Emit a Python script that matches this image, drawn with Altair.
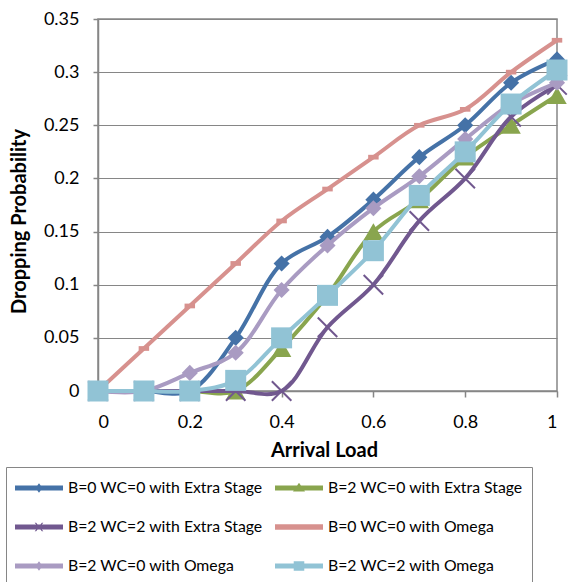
import altair as alt
import pandas as pd

# ---- data ----
loads = [0, 0.1, 0.2, 0.3, 0.4, 0.5, 0.6, 0.7, 0.8, 0.9, 1.0]

series_names = [
    "B=0 WC=0 with Extra Stage",
    "B=2 WC=0 with Extra Stage",
    "B=2 WC=2 with Extra Stage",
    "B=0 WC=0 with Omega",
    "B=2 WC=0 with Omega",
    "B=2 WC=2 with Omega",
]

b0wc0_extra = [0, 0, 0, 0.05, 0.12, 0.145, 0.18, 0.22, 0.25, 0.29, 0.312]
b2wc0_extra = [0, 0, 0, 0, 0.04, 0.09, 0.15, 0.18, 0.22, 0.25, 0.278]
b2wc2_extra = [0, 0, 0, 0, 0, 0.06, 0.10, 0.16, 0.20, 0.258, 0.288]
b0wc0_omega = [0, 0.04, 0.08, 0.12, 0.16, 0.19, 0.22, 0.25, 0.265, 0.30, 0.33]
b2wc0_omega = [0, 0, 0.017, 0.036, 0.095, 0.137, 0.172, 0.202, 0.237, 0.27, 0.29]
b2wc2_omega = [0, 0, 0, 0.01, 0.05, 0.09, 0.132, 0.184, 0.225, 0.27, 0.302]

all_values = [b0wc0_extra, b2wc0_extra, b2wc2_extra, b0wc0_omega, b2wc0_omega, b2wc2_omega]

colors = ["#4572A7", "#89A54E", "#71588F", "#D7918E", "#A99BC2", "#91C3D5"]

x_ticks = [0, 0.2, 0.4, 0.6, 0.8, 1]
y_ticks = [0, 0.05, 0.1, 0.15, 0.2, 0.25, 0.3, 0.35]

# marker styles per series: (shape, size, filled, strokeWidth)
X_PATH = "M-1,-1L1,1M1,-1L-1,1"
DASH_PATH = "M-1,-0.45L1,-0.45L1,0.45L-1,0.45Z"
markers = [
    ("diamond", 260, True, 0),
    ("triangle-up", 380, True, 0),
    (X_PATH, 380, False, 2),
    (DASH_PATH, 110, True, 0),
    ("diamond", 260, True, 0),
    ("square", 441, True, 0),
]

# legend symbols: line with a small marker
LINE = "M-1,-0.1L1,-0.1L1,0.1L-1,0.1Z"
legend_paths = [
    LINE + "M0,-0.2L0.15,0L0,0.2L-0.15,0Z",
    LINE + "M0,-0.22L0.25,0.15L-0.25,0.15Z",
    LINE + "M-0.18,-0.18L-0.12,-0.18L0.18,0.18L0.12,0.18Z"
         + "M0.12,-0.18L0.18,-0.18L-0.12,0.18L-0.18,0.18Z",
    "M-1,-0.11L1,-0.11L1,0.11L-1,0.11Z",
    LINE + "M0,-0.2L0.15,0L0,0.2L-0.15,0Z",
    LINE + "M-0.22,-0.2L0.22,-0.2L0.22,0.2L-0.22,0.2Z",
]

rows = []
for name, vals in zip(series_names, all_values):
    for xv, yv in zip(loads, vals):
        rows.append({"series": name, "load": xv, "prob": yv})
df = pd.DataFrame(rows)

GRAY = "#868686"
FONT = "Lato"

color_scale = alt.Scale(domain=series_names, range=colors)

x_enc = alt.X(
    "load:Q",
    scale=alt.Scale(domain=[0, 1], nice=False, zero=False),
    axis=alt.Axis(
        values=x_ticks, format="~g", grid=False, tickSize=6,
        labelPadding=30, labelBaseline="alphabetic",
        title="Arrival Load", titleX=226, titleY=65.5,
        titleBaseline="alphabetic", titleAlign="center",
    ),
)
y_enc = alt.Y(
    "prob:Q",
    scale=alt.Scale(domain=[0, 0.35], nice=False),
    axis=alt.Axis(
        values=y_ticks, format="~g", grid=True, tickSize=5,
        labelPadding=14,
        title="Dropping Probability", titleX=-73, titleY=202,
        titleBaseline="alphabetic", titleAlign="center", titleAngle=270,
    ),
)

legend = alt.Legend(
    title=None, orient="none", legendX=-92, legendY=448, columns=2,
    direction="horizontal",
    symbolSize=2304, symbolStrokeWidth=0, symbolOpacity=1,
    labelFont=FONT, labelFontSize=15.8, labelColor="black", labelOffset=5,
    labelLimit=400, clipHeight=24, rowPadding=15, columnPadding=12,
    padding=9, strokeColor=GRAY,
)

base = alt.Chart(df)

legend_layer = base.mark_point(filled=True, opacity=0).encode(
    x=x_enc, y=y_enc,
    color=alt.Color("series:N", scale=color_scale, legend=legend),
    shape=alt.Shape("series:N", scale=alt.Scale(domain=series_names, range=legend_paths), legend=legend),
)

layers = [legend_layer]
for name, (shp, size, filled, sw) in zip(series_names, markers):
    sub = base.transform_filter(alt.datum.series == name)
    line = sub.mark_line(interpolate="catmull-rom", strokeWidth=4).encode(
        x=x_enc, y=y_enc,
        color=alt.Color("series:N", scale=color_scale, legend=None),
    )
    pt = sub.mark_point(shape=shp, size=size, filled=filled, opacity=1, strokeWidth=sw).encode(
        x=x_enc, y=y_enc,
        color=alt.Color("series:N", scale=color_scale, legend=None),
    )
    layers += [line, pt]

chart = alt.layer(*layers).properties(
    width=459, height=372,
    padding={"left": 98, "top": 19, "right": 12, "bottom": 191},
    autosize=alt.AutoSizeParams(type="none"),
).configure_view(
    stroke=GRAY, strokeWidth=1.5,
).configure_axis(
    domainColor=GRAY, tickColor=GRAY, gridColor=GRAY, gridWidth=1.2,
    domainWidth=1.5, tickWidth=1.5,
    labelFont=FONT, labelFontSize=18, labelColor="black",
    titleFont=FONT, titleFontSize=20, titleFontWeight="bold", titleColor="black",
)

chart.save("out.html", embed_options={"renderer": "svg", "actions": False})
